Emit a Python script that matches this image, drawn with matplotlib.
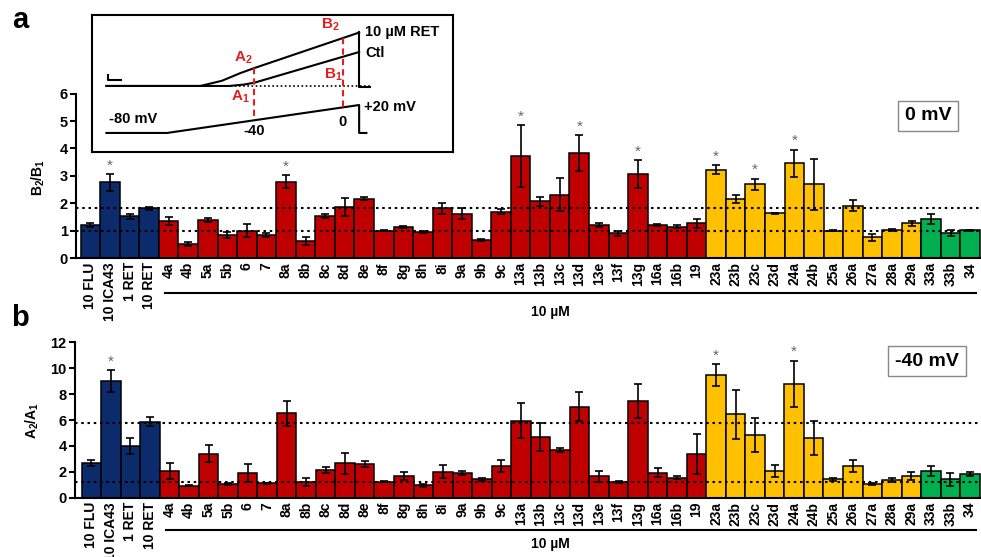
import matplotlib
matplotlib.use("Agg")
import matplotlib.pyplot as plt
import numpy as np

plt.rcParams["font.family"] = ["Liberation Sans", "DejaVu Sans"]
plt.rcParams["font.weight"] = "bold"
plt.rcParams["mathtext.default"] = "regular"

# ---- data -------------------------------------------------------------
labels = ["10 FLU", "10 ICA43", "1 RET", "10 RET",
          "4a", "4b", "5a", "5b", "6", "7",
          "8a", "8b", "8c", "8d", "8e", "8f", "8g", "8h", "8i",
          "9a", "9b", "9c",
          "13a", "13b", "13c", "13d", "13e", "13f", "13g",
          "16a", "16b", "19",
          "23a", "23b", "23c", "23d", "24a", "24b", "25a", "26a", "27a", "28a", "29a",
          "33a", "33b", "34"]
groups = ["blue"] * 4 + ["red"] * 28 + ["yellow"] * 11 + ["green"] * 3

# B2/B1 at 0 mV
b_ratio = [1.21, 2.76, 1.52, 1.82,
           1.34, 0.51, 1.39, 0.84, 1.00, 0.83,
           2.78, 0.61, 1.53, 1.87, 2.17, 1.00, 1.14, 0.95, 1.82,
           1.62, 0.66, 1.69,
           3.73, 2.07, 2.31, 3.83, 1.20, 0.90, 3.07,
           1.20, 1.15, 1.26,
           3.22, 2.15, 2.70, 1.63, 3.46, 2.69, 1.00, 1.90, 0.75, 1.03, 1.26,
           1.42, 0.92, 1.01]
b_err = [0.08, 0.31, 0.10, 0.05,
         0.15, 0.07, 0.07, 0.12, 0.25, 0.07,
         0.24, 0.15, 0.08, 0.32, 0.05, 0.02, 0.03, 0.05, 0.20,
         0.20, 0.03, 0.10,
         1.12, 0.17, 0.60, 0.67, 0.06, 0.09, 0.50,
         0.03, 0.05, 0.15,
         0.17, 0.15, 0.20, 0.02, 0.50, 0.94, 0.02, 0.20, 0.12, 0.03, 0.10,
         0.17, 0.12, 0.03]
b_star = ["10 ICA43", "8a", "13a", "13d", "13g", "23a", "23c", "24a"]
b_refs = [1.0, 1.82]

# A2/A1 at -40 mV
a_ratio = [2.70, 9.00, 4.00, 5.88,
           2.06, 0.93, 3.40, 1.03, 1.90, 1.10,
           6.52, 1.24, 2.14, 2.65, 2.60, 1.24, 1.65, 0.95, 2.00,
           1.90, 1.42, 2.47,
           5.95, 4.69, 3.71, 7.04, 1.65, 1.21, 7.45,
           1.93, 1.55, 3.35,
           9.48, 6.44, 4.85, 2.06, 8.79, 4.61, 1.42, 2.45, 1.06, 1.37, 1.70,
           2.04, 1.44, 1.86]
a_err = [0.25, 0.85, 0.60, 0.35,
         0.60, 0.05, 0.65, 0.08, 0.70, 0.05,
         0.95, 0.30, 0.20, 0.80, 0.20, 0.02, 0.30, 0.10, 0.50,
         0.15, 0.12, 0.45,
         1.35, 1.10, 0.15, 1.15, 0.40, 0.05, 1.30,
         0.35, 0.10, 1.55,
         0.85, 1.90, 1.30, 0.45, 1.80, 1.30, 0.10, 0.45, 0.10, 0.12, 0.30,
         0.40, 0.50, 0.15]
a_star = ["10 ICA43", "23a", "24a"]
a_refs = [1.24, 5.75]

colors = {"blue": "#0c2b6c", "red": "#c00000", "yellow": "#ffc000", "green": "#00b050"}

# inset schematic (arbitrary units, 0-100 both ways)
ret_t = [4, 30, 36, 41, 45, 74]
ret_y = [48.2, 48.2, 52, 57.5, 61.3, 87.2]
ctl_t = [4, 38, 42, 45, 74]
ctl_y = [48.2, 48.2, 49.2, 50.6, 73.0]
volt_t = [4, 20.8, 74, 74, 76]
volt_y = [13.9, 13.9, 34.3, 13.9, 13.9]


def bar_panel(ax, values, errs, stars, refs, ymax, yticks, xl, xr):
    x = np.arange(len(labels))
    ax.bar(x, values, width=1.0, color=[colors[g] for g in groups],
           edgecolor="black", linewidth=1.1, zorder=2)
    ax.errorbar(x, values, yerr=errs, fmt="none", ecolor="black",
                elinewidth=1.2, capsize=3, capthick=1.2, zorder=3)
    for r in refs:
        ax.axhline(r, color="black", linestyle=(0, (1.2, 1.8)), linewidth=1.5, zorder=4)
    for s in stars:
        i = labels.index(s)
        ax.annotate("*", (i, values[i] + errs[i]), xytext=(0, 1),
                    textcoords="offset points", ha="center", va="bottom",
                    fontsize=11, color="#666666", fontweight="normal")
    ax.set_xlim(xl, xr)
    ax.set_ylim(0, ymax)
    ax.set_yticks(yticks)
    ax.set_xticks(x)
    ax.set_xticklabels(labels, rotation=90, fontsize=10, fontweight="bold")
    ax.tick_params(axis="x", length=0, pad=3)
    ax.tick_params(axis="y", length=4, width=1.5, labelsize=10.5, pad=2)
    for lab in ax.get_yticklabels():
        lab.set_fontweight("bold")
    for side in ["top", "right"]:
        ax.spines[side].set_visible(False)
    ax.spines["left"].set_linewidth(1.5)
    ax.spines["bottom"].set_linewidth(1.5)


fig = plt.figure(figsize=(9.81, 5.57), dpi=100)

ax_a = fig.add_axes([0.0775, 0.5368, 0.9225, 0.295])
bar_panel(ax_a, b_ratio, b_err, b_star, b_refs, 6, range(0, 7), -0.74, 45.55)
ax_b = fig.add_axes([0.0765, 0.1064, 0.9235, 0.279])
bar_panel(ax_b, a_ratio, a_err, a_star, a_refs, 12, range(0, 13, 2), -0.84, 45.57)

# "10 µM" underline for the compounds
for ax, yl, yt in [(ax_a, -0.212, -0.33), (ax_b, -0.208, -0.30)]:
    trans = ax.get_xaxis_transform()
    ax.plot([3.8, 45.3], [yl, yl], color="black", linewidth=1.5,
            transform=trans, clip_on=False)
    ax.text(23.5, yt, "10 µM", transform=trans, ha="center", va="center",
            fontsize=10, fontweight="bold")

fig.text(38 / 981, 1 - 177 / 557, "B$_2$/B$_1$", rotation=90, ha="center",
         va="center", fontsize=10, fontweight="bold")
fig.text(32 / 981, 1 - 420 / 557, "A$_2$/A$_1$", rotation=90, ha="center",
         va="center", fontsize=10, fontweight="bold")

fig.text(20 / 981, 1 - 20 / 557, "a", ha="center", va="center", fontsize=21, fontweight="bold")
fig.text(20 / 981, 1 - 318 / 557, "b", ha="center", va="center", fontsize=21, fontweight="bold")

box = dict(boxstyle="square,pad=0.35", facecolor="white", edgecolor="#888888", linewidth=1)
fig.text(928 / 981, 1 - 116 / 557, "0 mV", ha="center", va="center", fontsize=14,
         fontweight="bold", bbox=box)
fig.text(927 / 981, 1 - 361 / 557, "-40 mV", ha="center", va="center", fontsize=14,
         fontweight="bold", bbox=box)

# ---- inset schematic ---------------------------------------------------
ins = fig.add_axes([92 / 981, 1 - 152 / 557, (453 - 92) / 981, (152 - 15) / 557])
ins.set_xlim(0, 100)
ins.set_ylim(0, 100)
ins.set_xticks([])
ins.set_yticks([])
for sp in ins.spines.values():
    sp.set_linewidth(1.5)
ins.set_zorder(5)

ins.plot(ret_t, ret_y, color="black", linewidth=1.5)
ins.plot(ctl_t, ctl_y, color="black", linewidth=1.5)
ins.plot([74, 74, 77], [87.6, 47.4, 47.4], color="black", linewidth=1.5)
ins.plot([27, 77], [48.2, 48.2], color="black", linewidth=1.2, linestyle=(0, (1, 1.5)))
ins.plot(volt_t, volt_y, color="black", linewidth=1.5)
ins.plot([4.4, 4.4, 8.0], [56.2, 52.6, 52.6], color="black", linewidth=1.5)
red = "#e02020"
ins.plot([44.9, 44.9], [61.3, 23.4], color=red, linewidth=1.5, linestyle=(0, (3, 2)))
ins.plot([69.5, 69.5], [83.2, 32.1], color=red, linewidth=1.5, linestyle=(0, (3, 2)))

ins.text(41.8, 68.6, "A$_2$", color=red, ha="center", va="center", fontsize=11)
ins.text(41.0, 40.1, "A$_1$", color=red, ha="center", va="center", fontsize=11)
ins.text(65.9, 92.7, "B$_2$", color=red, ha="center", va="center", fontsize=11)
ins.text(67.0, 56.2, "B$_1$", color=red, ha="center", va="center", fontsize=11)
ins.text(75.6, 87.6, "10 µM RET", ha="left", va="center", fontsize=10.5)
ins.text(75.6, 72.3, "Ctl", ha="left", va="center", fontsize=10.5)
ins.text(75.3, 32.8, "+20 mV", ha="left", va="center", fontsize=10.5)
ins.text(4.7, 24.1, "-80 mV", ha="left", va="center", fontsize=10.5)
ins.text(44.9, 15.3, "-40", ha="center", va="center", fontsize=10.5)
ins.text(69.5, 21.9, "0", ha="center", va="center", fontsize=10.5)

fig.savefig("out.png", dpi=100)
